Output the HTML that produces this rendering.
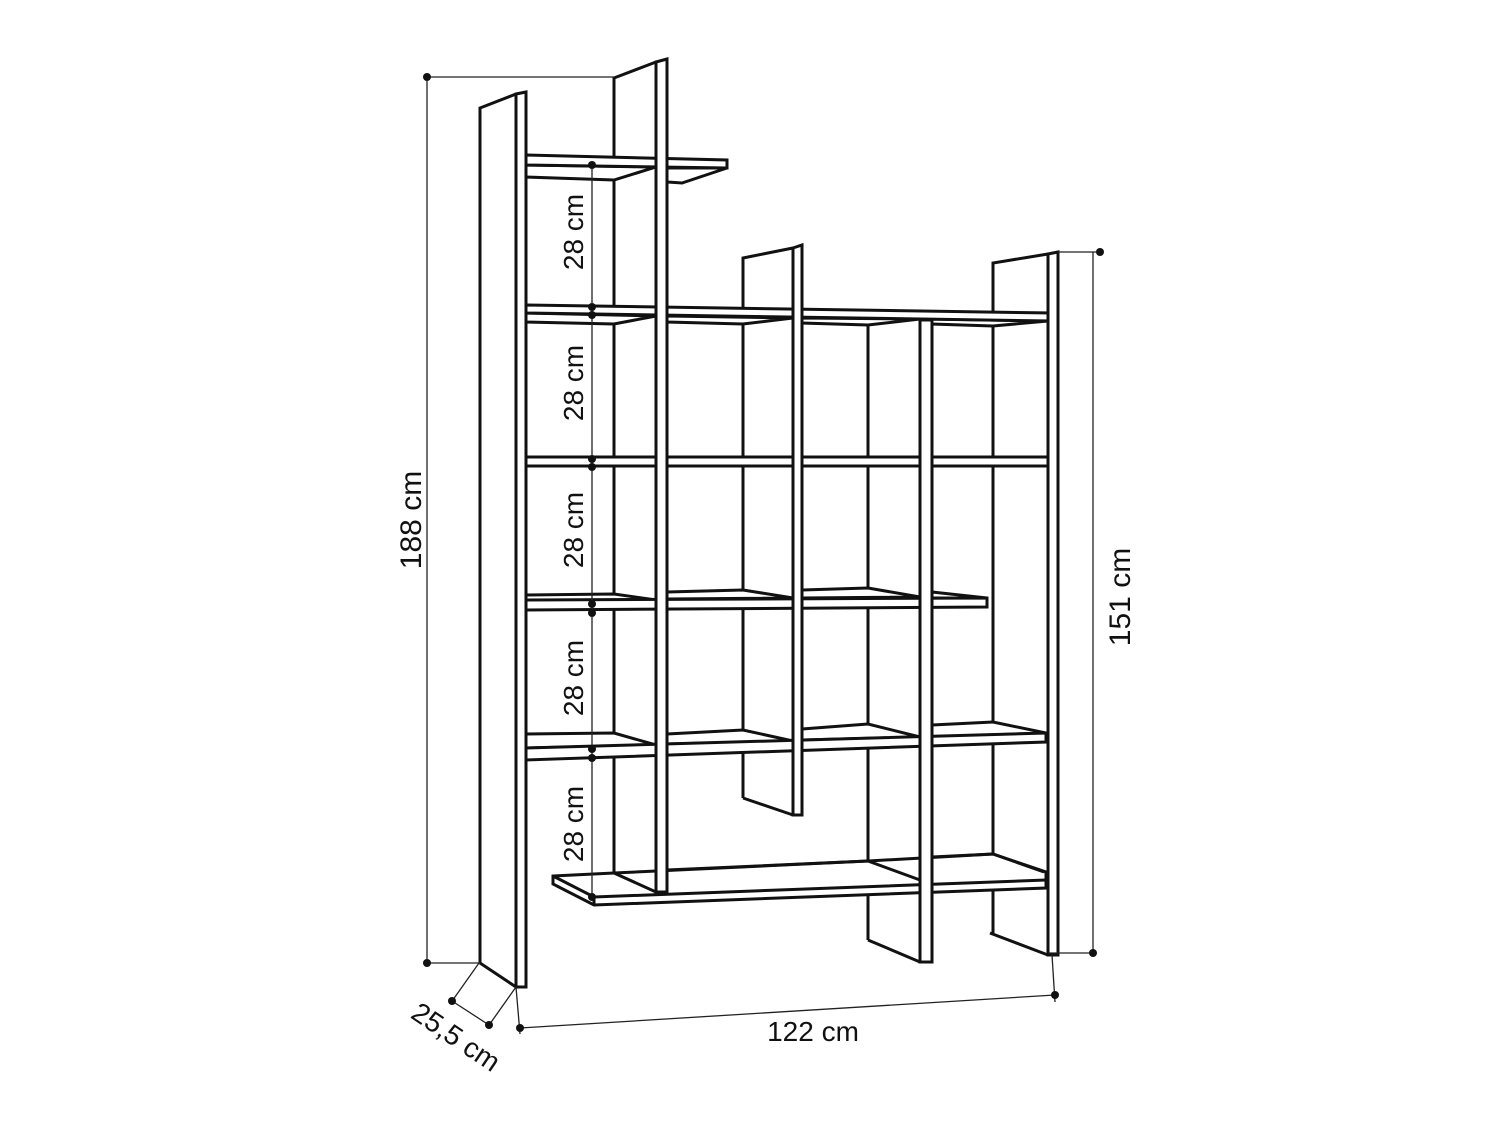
<!DOCTYPE html>
<html><head><meta charset="utf-8"><style>
html,body{margin:0;padding:0;background:#fff}
svg{display:block}
text{font-family:"Liberation Sans",sans-serif;fill:#111}
</style></head><body>
<svg width="1500" height="1125" viewBox="0 0 1500 1125" xmlns="http://www.w3.org/2000/svg">
<rect width="1500" height="1125" fill="#fff"/>
<g stroke="#111" stroke-width="3" fill="none" stroke-linejoin="miter">
<!-- back / side lines -->
<polyline points="480,963 480,108 516,94"/>
<line x1="480" y1="963" x2="516" y2="987"/>
<polyline points="614,873 614,78 656,62"/>
<polyline points="743,798 743,258 793,248"/>
<line x1="743" y1="798" x2="793" y2="815"/>
<line x1="868" y1="320" x2="868" y2="940"/>
<line x1="868" y1="940" x2="920" y2="962"/>
<polyline points="993,933 993,263 1048,254"/>
<line x1="990" y1="933" x2="1048" y2="955"/>
</g>
<g stroke="#111" stroke-width="3" fill="#fff" stroke-linejoin="miter">
<!-- S1 -->
<polygon points="526,165 656,167 614,180 526,177"/>
<polygon points="667,168 727,168 682,183 667,182"/>
<polygon points="526,155 727,160 727,168 526,165"/>
<!-- S2 -->
<polygon points="526,313 656,316 614,324 526,322"/>
<polygon points="667,316 793,318 743,324 667,322"/>
<polygon points="802,318 920,319 868,325 802,323"/>
<polygon points="932,319 1048,321 993,326 932,324"/>
<polygon points="526,305 1052,313 1052,321 526,313"/>
<!-- S3 -->
<polygon points="526,457 1050,457 1050,466 526,466"/>
<!-- S4 -->
<polygon points="526,595 614,594 656,600 526,600"/>
<polygon points="667,592 743,590 793,598 667,599"/>
<polygon points="802,590 868,588 920,597 802,598"/>
<polygon points="932,592 987,598 932,598"/>
<polygon points="526,600 987,598 987,607 526,610"/>
<!-- S5 -->
<polygon points="526,734 614,733 656,745 526,748"/>
<polygon points="667,734 743,730 793,741 667,744"/>
<polygon points="802,729 868,724 920,737 802,740"/>
<polygon points="932,725 993,722 1046,733 932,737"/>
<polygon points="526,748 1046,733 1046,742 526,760"/>
<!-- S6 -->
<polygon points="553,876 614,873 868,861 993,854 1046,872 1046,888 594,905 553,884"/>
<polyline points="614,873 656,892" fill="none"/>
<polyline points="667,870 868,861 920,880" fill="none"/>
<polyline points="932,857 993,854 1044,872" fill="none"/>
<polyline points="553,876 594,897 1046,880" fill="none"/>
<line x1="594" y1="897" x2="594" y2="905"/>
<!-- panel fronts -->
<polygon points="516,94 526,92 526,987 516,987"/>
<polygon points="656,62 667,59 667,892 656,892"/>
<polygon points="793,248 802,245 802,815 793,815"/>
<polygon points="920,320 932,320 932,962 920,962"/>
<polygon points="1048,254 1058,252 1058,955 1048,955"/>
</g>
<!-- dimension lines -->
<g stroke="#222" stroke-width="1.3" fill="none">
<line x1="427" y1="77" x2="427" y2="963"/>
<line x1="427" y1="77" x2="614" y2="77"/>
<line x1="427" y1="963" x2="480" y2="963"/>
<line x1="1093" y1="252" x2="1093" y2="953"/>
<line x1="1058" y1="252" x2="1100" y2="252"/>
<line x1="1048" y1="953" x2="1093" y2="953"/>
<line x1="520" y1="1028" x2="1055" y2="995"/>
<line x1="516" y1="987" x2="520" y2="1034"/>
<line x1="1052" y1="955" x2="1055" y2="1002"/>
<line x1="452" y1="1001" x2="489" y2="1025"/>
<line x1="479" y1="963" x2="450" y2="1004"/>
<line x1="516" y1="987" x2="487" y2="1028"/>
<line x1="592" y1="165" x2="592" y2="897"/>
</g>
<g fill="#111">
<circle cx="427" cy="77" r="4"/><circle cx="427" cy="963" r="4"/>
<circle cx="1100" cy="252" r="4"/><circle cx="1093" cy="953" r="4"/>
<circle cx="520" cy="1028" r="4"/><circle cx="1055" cy="995" r="4"/>
<circle cx="452" cy="1001" r="4"/><circle cx="489" cy="1025" r="4"/>
<circle cx="592" cy="165" r="4"/><circle cx="592" cy="307" r="4"/><circle cx="592" cy="315" r="4"/>
<circle cx="592" cy="459" r="4"/><circle cx="592" cy="467" r="4"/>
<circle cx="592" cy="604" r="4"/><circle cx="592" cy="613" r="4"/>
<circle cx="592" cy="749" r="4"/><circle cx="592" cy="758" r="4"/>
<circle cx="592" cy="897" r="4"/>
</g>
<g font-size="28">
<text transform="translate(583,232) rotate(-90)" text-anchor="middle">28 cm</text>
<text transform="translate(583,383) rotate(-90)" text-anchor="middle">28 cm</text>
<text transform="translate(583,530) rotate(-90)" text-anchor="middle">28 cm</text>
<text transform="translate(583,678) rotate(-90)" text-anchor="middle">28 cm</text>
<text transform="translate(583,824) rotate(-90)" text-anchor="middle">28 cm</text>
<text transform="translate(421,520) rotate(-90)" text-anchor="middle" font-size="30">188 cm</text>
<text transform="translate(1130,597) rotate(-90)" text-anchor="middle" font-size="30">151 cm</text>
<text x="813" y="1041" text-anchor="middle">122 cm</text>
<text transform="translate(456,1037) rotate(34)" text-anchor="middle" dominant-baseline="central">25,5 cm</text>
</g>
</svg>
</body></html>
